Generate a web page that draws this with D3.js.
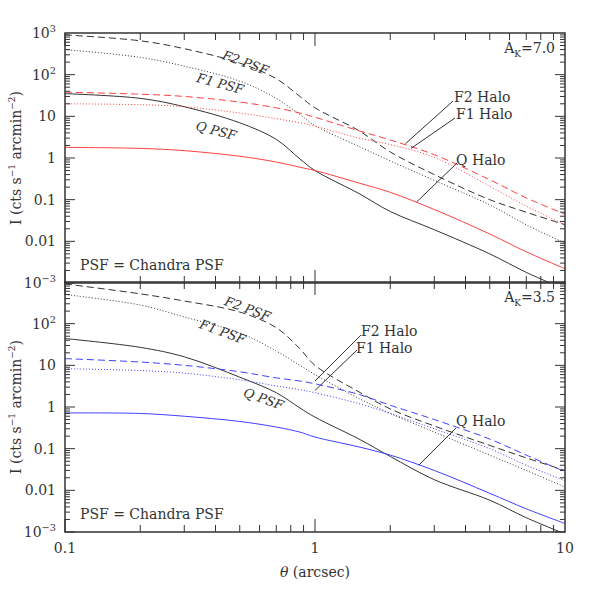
<!DOCTYPE html>
<html><head><meta charset="utf-8">
<script src="https://cdn.jsdelivr.net/npm/d3@7"></script>
<style>body{margin:0;background:#fff}text{font-family:"DejaVu Serif","Liberation Serif",serif;fill:#333}</style>
</head><body><svg id="c" width="595" height="595"></svg>
<script>
const theta = [0.1,0.2,0.3,0.5,0.7,0.87,1,1.5,2,3,5,7,10];
// top panel (A_K = 7.0)
const topF2PSF  = [900,650,420,190,80,30,16,4.5,1.4,0.4,0.1,0.05,0.025];
const topF1PSF  = [400,260,160,70,27,11,6,1.9,0.85,0.29,0.075,0.025,0.009];
const topQPSF   = [35,27,17,7,2.8,0.95,0.5,0.14,0.052,0.019,0.005,0.0018,0.0007];
const topF2Halo = [38,34,30,22,16,12,9.5,4.5,2.7,1.2,0.3,0.11,0.045];
const topF1Halo = [20,19,17,12,8.8,7,5.8,3,2.1,1.03,0.21,0.07,0.025];
const topQHalo  = [1.8,1.7,1.5,1.1,0.8,0.6,0.5,0.25,0.15,0.058,0.015,0.0056,0.0022];
// bottom panel (A_K = 3.5)
const botF2PSF  = [900,520,350,190,80,25,10,2.3,0.9,0.35,0.12,0.06,0.03];
const botF1PSF  = [500,280,145,60,22,10,6,1.6,0.7,0.25,0.07,0.03,0.012];
const botQPSF   = [44,27,16,5.2,2.2,0.95,0.57,0.17,0.065,0.018,0.0058,0.0022,0.0009];
const botF2Halo = [14.5,12,10,7,5,4.2,3.6,2,1.1,0.5,0.17,0.07,0.028];
const botF1Halo = [8.3,7.5,6.5,4.5,3.2,2.6,2.2,1.2,0.7,0.3,0.1,0.04,0.017];
const botQHalo  = [0.72,0.7,0.6,0.45,0.33,0.25,0.19,0.11,0.07,0.03,0.0085,0.0036,0.0016];
const yTicks = [1e-3,0.01,0.1,1,10,100,1000];
const yTickLabels = ["10^-3","0.01","0.1","1","10","10^2","10^3"];
const xTicks = [0.1,1,10];
const xTickLabels = ["0.1","1","10"];

const svg = d3.select("#c");
const L=65,R=565;
const x = d3.scaleLog().domain([0.1,10]).range([L,R]);
const ink="#333";
function label(g,txt,xx,yy,anchor,size){
  const t=g.append("text").attr("x",xx).attr("y",yy).attr("text-anchor",anchor).attr("font-size",size);
  const m=txt.split("^");
  t.append("tspan").text(m[0]);
  if(m[1]) t.append("tspan").attr("dy",-6).attr("font-size",size*0.7).text(m[1].replace("-","−"));
  return t;
}
function panel(top,data,color,ak,ann,skipTop){
  const bot=top+250;
  const y=d3.scaleLog().domain([1e-3,1e3]).range([bot,top]);
  const g=svg.append("g");
  const line=d3.line().x((d,i)=>x(theta[i])).y(d=>y(d)).curve(d3.curveCatmullRom.alpha(0.5));
  const defs=[[data[0],ink,"7,4"],[data[1],ink,"1,2"],[data[2],ink,null],[data[3],color,"7,4"],[data[4],color,"1,2"],[data[5],color,null]];
  g.append("clipPath").attr("id","cl"+top).append("rect").attr("x",L).attr("y",top).attr("width",R-L).attr("height",250);
  defs.forEach(([d,c,da])=>{g.append("path").datum(d).attr("d",line).attr("clip-path",`url(#cl${top})`).attr("fill","none").attr("stroke",c).attr("stroke-width",1).attr("stroke-dasharray",da);});
  g.append("rect").attr("x",L).attr("y",top).attr("width",R-L).attr("height",250).attr("fill","none").attr("stroke",ink).attr("stroke-width",1.5);
  for(let e=-3;e<3;e++) for(let k=1;k<10;k++){
    const v=k*Math.pow(10,e), yy=y(v), len=k==1?10:5;
    g.append("line").attr("x1",L).attr("x2",L+len).attr("y1",yy).attr("y2",yy).attr("stroke",ink);
    g.append("line").attr("x1",R).attr("x2",R-len).attr("y1",yy).attr("y2",yy).attr("stroke",ink);
  }
  for(let e=-1;e<1;e++) for(let k=1;k<10;k++){
    const v=k*Math.pow(10,e), xx=x(v), len=k==1?13:7;
    g.append("line").attr("x1",xx).attr("x2",xx).attr("y1",bot).attr("y2",bot-len).attr("stroke",ink);
    g.append("line").attr("x1",xx).attr("x2",xx).attr("y1",top).attr("y2",top+len).attr("stroke",ink);
  }
  yTicks.forEach((v,i)=>{ if(skipTop && i==yTicks.length-1) return; label(g,yTickLabels[i],56,y(v)+5,"end",14);});
  const yt=g.append("text").attr("transform",`translate(21,${top+125}) rotate(-90)`).attr("text-anchor","middle").attr("font-size",14);
  yt.append("tspan").text("I (cts s");yt.append("tspan").attr("dy",-6).attr("font-size",9).text("−1");
  yt.append("tspan").attr("dy",6).text(" arcmin");yt.append("tspan").attr("dy",-6).attr("font-size",9).text("−2");
  yt.append("tspan").attr("dy",6).text(")");
  g.append("text").attr("x",80).attr("y",bot-13).attr("font-size",14).text("PSF = Chandra PSF");
  const a=g.append("text").attr("x",555).attr("y",top+20).attr("text-anchor","end").attr("font-size",14);
  a.append("tspan").text("A");a.append("tspan").attr("dy",4).attr("font-size",9).text("K");a.append("tspan").attr("dy",-4).text("="+ak);
  ann.forEach(o=>{
    if(o.rot!==undefined) g.append("text").attr("transform",`translate(${o.x},${o.y}) rotate(${o.rot})`).attr("font-size",13).attr("text-anchor","middle").attr("font-style","italic").text(o.t);
    else{
      g.append("text").attr("x",o.x).attr("y",o.y).attr("font-size",14).text(o.t);
      g.append("line").attr("x1",x(o.px)).attr("y1",y(o.py)).attr("x2",o.lx).attr("y2",o.ly).attr("stroke",ink);
    }
  });
}
panel(33,[topF2PSF,topF1PSF,topQPSF,topF2Halo,topF1Halo,topQHalo],"#ff4040","7.0",[
  {t:"F2 PSF",x:244,y:67,rot:20},{t:"F1 PSF",x:219,y:88,rot:15},{t:"Q PSF",x:215,y:135,rot:15},
  {t:"F2 Halo",x:454,y:102,px:2.3,py:2.2,lx:453,ly:101},
  {t:"F1 Halo",x:456,y:119,px:2.42,py:1.7,lx:455,ly:118},
  {t:"Q Halo",x:456,y:165,px:2.55,py:0.088,lx:457,ly:163}],false);
panel(282,[botF2PSF,botF1PSF,botQPSF,botF2Halo,botF1Halo,botQHalo],"#4040ff","3.5",[
  {t:"F2 PSF",x:246,y:313,rot:20},{t:"F1 PSF",x:221,y:336,rot:20},{t:"Q PSF",x:262,y:403,rot:20},
  {t:"F2 Halo",x:361,y:336,px:1,py:4.2,lx:361,ly:335},
  {t:"F1 Halo",x:356,y:353,px:1,py:2.5,lx:357,ly:350},
  {t:"Q Halo",x:456,y:426,px:2.6,py:0.04,lx:456,ly:428}],true);
xTicks.forEach((v,i)=>svg.append("text").attr("x",x(v)).attr("y",553).attr("text-anchor","middle").attr("font-size",14).text(xTickLabels[i]));
const xt=svg.append("text").attr("x",315).attr("y",577).attr("text-anchor","middle").attr("font-size",14);
xt.append("tspan").attr("font-style","italic").text("θ");xt.append("tspan").text(" (arcsec)");
</script></body></html>
